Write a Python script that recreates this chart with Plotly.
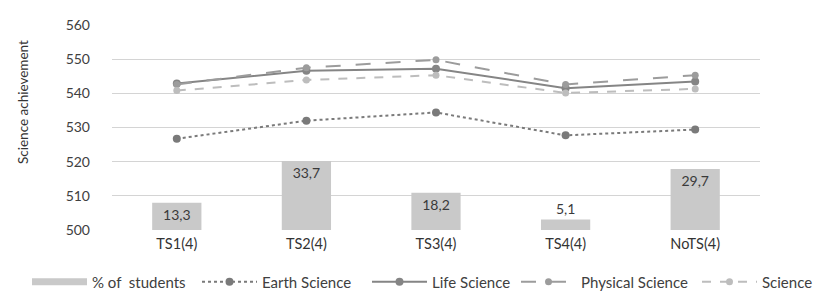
import plotly.graph_objects as go

categories = ["TS1(4)", "TS2(4)", "TS3(4)", "TS4(4)", "NoTS(4)"]
pct_students = [13.3, 33.7, 18.2, 5.1, 29.7]
pct_labels = ["13,3", "33,7", "18,2", "5,1", "29,7"]
earth = [526.7, 532.0, 534.4, 527.7, 529.4]
life = [542.9, 546.6, 547.2, 541.5, 543.5]
physical = [542.6, 547.5, 549.8, 542.6, 545.3]
science = [540.8, 543.9, 545.3, 540.1, 541.3]
y_ticks = [500, 510, 520, 530, 540, 550, 560]

FONT = "Lato, Carlito, 'Liberation Sans', sans-serif"
fig = go.Figure()

fig.add_trace(go.Bar(
    x=categories, y=pct_students, yaxis="y2", name="% of  students",
    marker=dict(color="#c9c9c9", line=dict(width=0)), width=0.38,
    text=pct_labels,
    textposition=["inside", "inside", "inside", "outside", "inside"],
    insidetextanchor="end", textangle=0, constraintext="none", cliponaxis=False,
    textfont=dict(color="#3a3a3a", size=14, family=FONT), showlegend=False,
))
fig.add_trace(go.Scatter(
    x=[None], y=[None], mode="lines", name="% of  students",
    line=dict(color="#c9c9c9", width=7), legend="legend",
))
fig.add_trace(go.Scatter(
    x=categories, y=earth, name="Earth Science", mode="lines+markers",
    line=dict(color="#7a7a7a", width=2, dash="dot"),
    marker=dict(symbol="circle", size=8, color="#7a7a7a"), legend="legend",
))
fig.add_trace(go.Scatter(
    x=categories, y=life, name="Life Science", mode="lines+markers",
    line=dict(color="#858585", width=2),
    marker=dict(symbol="circle", size=8, color="#858585"), legend="legend",
))
fig.add_trace(go.Scatter(
    x=categories, y=physical, name="Physical Science", mode="lines+markers",
    line=dict(color="#9c9c9c", width=2, dash="longdash"),
    marker=dict(symbol="circle", size=7, color="#9c9c9c"), legend="legend2",
))
fig.add_trace(go.Scatter(
    x=categories, y=science, name="Science", mode="lines+markers",
    line=dict(color="#bdbdbd", width=2, dash="dash"),
    marker=dict(symbol="circle", size=7, color="#bdbdbd"), legend="legend2",
))

L, R, T, B = 104, 72, 17, 73
PW = 824 - L - R
PH = 295 - T - B


def px_to_paper_x(px):
    return (px - L) / PW


legend_common = dict(orientation="h", xanchor="left", yanchor="middle", y=(222 - 274) / PH,
                     font=dict(size=15, color="#404040"), itemwidth=55,
                     entrywidthmode="pixels", traceorder="normal", bgcolor="rgba(0,0,0,0)")

fig.update_layout(
    width=824, height=295,
    margin=dict(l=L, r=R, t=T, b=B, autoexpand=False),
    paper_bgcolor="white", plot_bgcolor="white",
    font=dict(family=FONT, color="#404040", size=12),
    xaxis=dict(showgrid=False, showline=False, ticks="", ticklabelstandoff=3,
               tickfont=dict(size=14.5, color="#333333")),
    yaxis=dict(range=[500, 560], tickvals=y_ticks, showgrid=True, gridcolor="#d4d4d4",
               gridwidth=1, zeroline=False, showline=False, ticks="",
               tickfont=dict(size=14, color="#404040"), ticklabelstandoff=21),
    yaxis2=dict(range=[0, 100], overlaying="y", side="right", visible=False),
    legend=dict(legend_common, x=px_to_paper_x(19), entrywidth=100),
    legend2=dict(legend_common, x=px_to_paper_x(508), entrywidth=111),
    annotations=[dict(text="Science achievement", textangle=-90, showarrow=False,
                      xref="paper", yref="paper", x=px_to_paper_x(15), y=(222 - 94) / PH,
                      xanchor="center", yanchor="middle",
                      font=dict(size=13.5, color="#333333", family=FONT))],
)

fig.write_html("out.html")
